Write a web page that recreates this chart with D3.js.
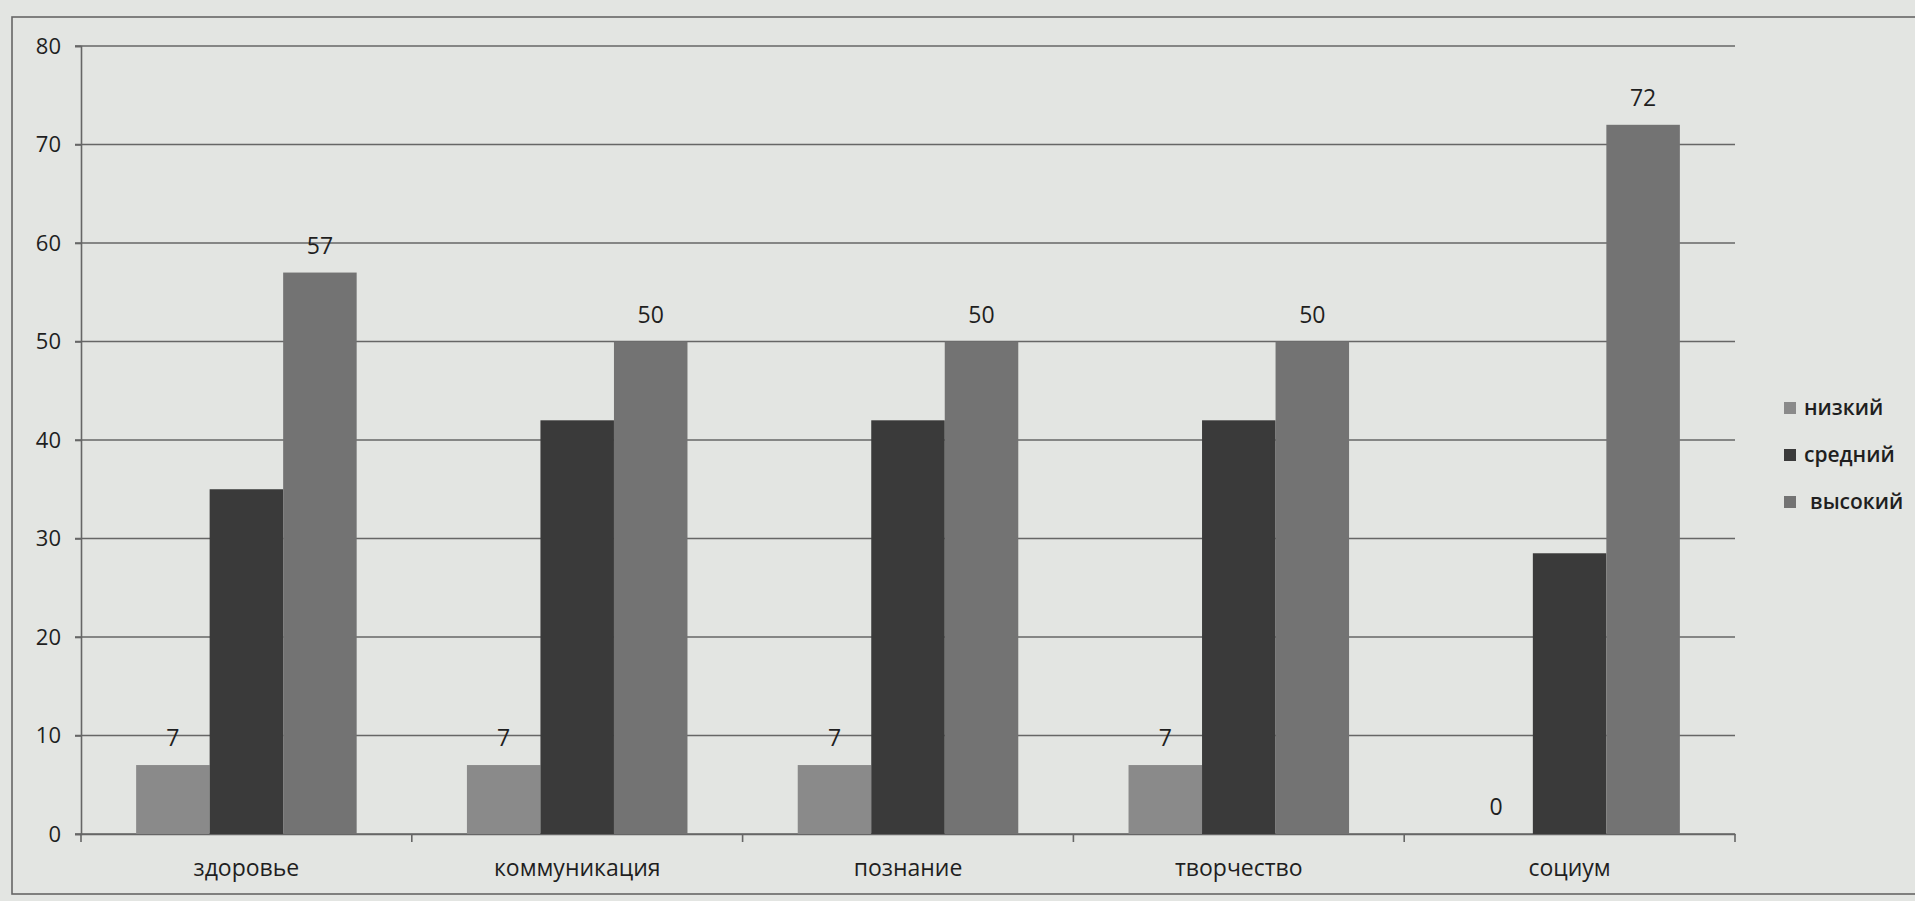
<!DOCTYPE html>
<html>
<head>
<meta charset="utf-8">
<script src="https://cdn.jsdelivr.net/npm/d3@7/dist/d3.min.js"></script>
<style>
html,body{margin:0;padding:0;background:#e3e5e2;}
svg{display:block;}
text{font-family:"Open Sans","DejaVu Sans",sans-serif;fill:#1f1f1f;}
</style>
</head>
<body>
<svg id="chart" width="1915" height="901"></svg>
<script>
const categories = ["здоровье","коммуникация","познание","творчество","социум"];
const seriesNames = ["низкий","средний","высокий"];
const nizkiy  = [7, 7, 7, 7, 0];
const sredniy = [35, 42, 42, 42, 28.5];
const vysokiy = [57, 50, 50, 50, 72];
const lowLabels  = ["7","7","7","7","0"];
const highLabels = ["57","50","50","50","72"];
const yTicks = [0,10,20,30,40,50,60,70,80];
const colors = ["#8a8a8a","#3a3a3a","#737373"];

(function(){
const series = [nizkiy, sredniy, vysokiy];
const labels = [lowLabels, null, highLabels];

const svg = d3.select("#chart");
const W = 1915, H = 901;
svg.append("rect").attr("width",W).attr("height",H).attr("fill","#e3e5e2");
svg.append("rect").attr("x",12).attr("y",17).attr("width",W+20).attr("height",877)
  .attr("fill","none").attr("stroke","#666").attr("stroke-width",1.6);

const pLeft = 81, pRight = 1735, pTop = 46, pBottom = 834;
const x = d3.scaleBand().domain(categories).range([pLeft,pRight]).paddingInner(0).paddingOuter(0);
const barW = x.bandwidth()/4.5; // Excel gap width 150%
const y = d3.scaleLinear().domain([0,80]).range([pBottom,pTop]);

svg.append("g").selectAll("line").data(yTicks).enter().append("line")
  .attr("x1",pLeft-6).attr("x2",pRight).attr("y1",d=>y(d)).attr("y2",d=>y(d))
  .attr("stroke","#666").attr("stroke-width",1.6);

const yAxis = d3.axisLeft(y).tickValues(yTicks).tickSize(6).tickPadding(14);
const ya = svg.append("g").attr("transform",`translate(${pLeft},0)`).call(yAxis);
ya.select(".domain").attr("stroke","#666").attr("stroke-width",1.6);
ya.selectAll(".tick line").attr("stroke","#666").attr("stroke-width",1.6);
ya.selectAll(".tick text").attr("font-size",22).attr("fill","#1f1f1f")
  .style("font-family",'"Open Sans",sans-serif');

const xAxis = d3.axisBottom(x).tickSize(0).tickPadding(26);
const xa = svg.append("g").attr("transform",`translate(0,${pBottom})`).call(xAxis);
xa.select(".domain").attr("stroke","#666").attr("stroke-width",1.6);
xa.selectAll(".tick text").attr("font-size",23).attr("fill","#1f1f1f")
  .style("font-family",'"Open Sans",sans-serif');
const bounds = categories.map(c=>x(c)).concat([pRight]);
svg.append("g").selectAll("line").data(bounds).enter().append("line")
  .attr("x1",d=>d).attr("x2",d=>d).attr("y1",pBottom).attr("y2",pBottom+8)
  .attr("stroke","#666").attr("stroke-width",1.6);

series.forEach((vals,si)=>{
  const gs = svg.append("g");
  gs.selectAll("rect").data(vals).enter().append("rect")
    .attr("x",(d,i)=>x(categories[i]) + 0.75*barW + si*barW)
    .attr("width",barW)
    .attr("y",d=>y(d))
    .attr("height",d=>pBottom - y(d))
    .attr("fill",colors[si]);
  if(labels[si]){
    gs.selectAll("text").data(vals).enter().append("text")
      .attr("x",(d,i)=>x(categories[i]) + 0.75*barW + si*barW + barW/2)
      .attr("y",d=>y(d)-19)
      .attr("text-anchor","middle")
      .attr("font-size",23)
      .text((d,i)=>labels[si][i]);
  }
});

const lg = svg.append("g");
const rowY = [408,455,502];
seriesNames.forEach((n,i)=>{
  lg.append("rect").attr("x",1784).attr("y",rowY[i]-6).attr("width",12).attr("height",12).attr("fill",colors[i]);
  lg.append("text").attr("x",i===2?1810:1804).attr("y",rowY[i]+7).attr("font-size",21)
    .attr("font-weight",600).text(n);
});
})();
</script>
</body>
</html>
